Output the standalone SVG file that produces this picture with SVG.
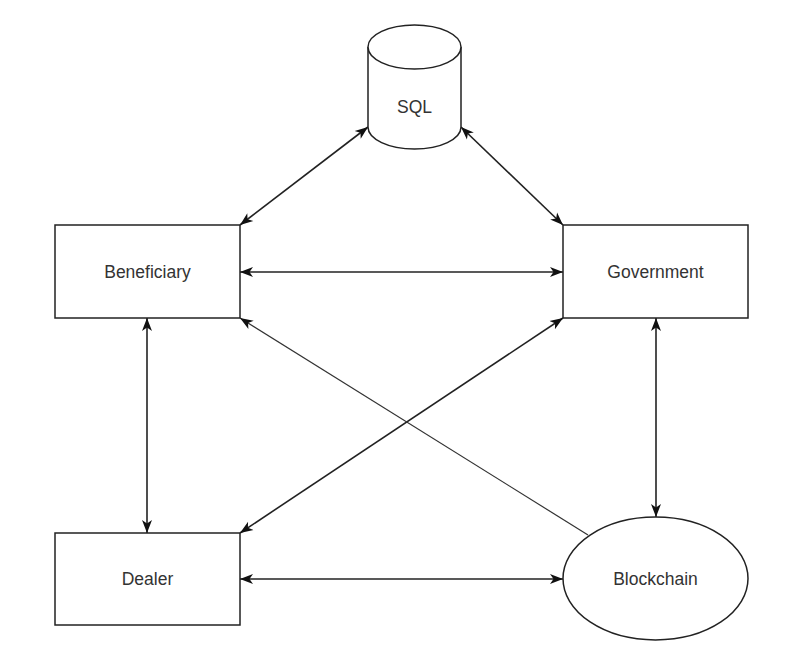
<svg xmlns="http://www.w3.org/2000/svg" width="800" height="665" viewBox="0 0 800 665">
<style>
.shape{fill:#fff;stroke:#222;stroke-width:1.5}
.lbl{font-family:"Liberation Sans",Arial,sans-serif;font-size:17.5px;fill:#333;text-anchor:middle}
.edge{fill:none;stroke:#222;stroke-width:1.6}
.thin{fill:none;stroke:#333;stroke-width:1.2}
</style>
<defs>
<marker id="arr" markerUnits="userSpaceOnUse" markerWidth="14" markerHeight="12" refX="13" refY="5" orient="auto-start-reverse" viewBox="0 0 14 10">
<path d="M0,0 L13,5 L0,10 L3.5,5 Z" fill="#111"/>
</marker>
</defs>
<rect width="800" height="665" fill="#fff"/>
<g id="connectors">
<path class="edge" d="M240,225 L368,127" marker-start="url(#arr)" marker-end="url(#arr)"/>
<path class="edge" d="M461,127 L563,225" marker-start="url(#arr)" marker-end="url(#arr)"/>
<path class="edge" d="M240,272 L563,272" marker-start="url(#arr)" marker-end="url(#arr)"/>
<path class="edge" d="M147,318 L147,533" marker-start="url(#arr)" marker-end="url(#arr)"/>
<path class="edge" d="M656,318 L656,517" marker-start="url(#arr)" marker-end="url(#arr)"/>
<path class="edge" d="M240,579 L563,579" marker-start="url(#arr)" marker-end="url(#arr)"/>
<path class="edge" d="M563,318 L240,533" marker-start="url(#arr)" marker-end="url(#arr)"/>
<path class="thin" d="M588,535 L240,318" marker-end="url(#arr)"/>
</g>
<g id="sql">
<path class="shape" d="M368,47 A46.5,22 0 0 1 461,47 L461,127 A46.5,22 0 0 1 368,127 Z"/>
<path class="shape" d="M368,47 A46.5,22 0 0 0 461,47" fill="none"/>
<text class="lbl" x="414.5" y="113">SQL</text>
</g>
<g id="beneficiary">
<rect class="shape" x="55" y="225" width="185" height="93"/>
<text class="lbl" x="147.5" y="278">Beneficiary</text>
</g>
<g id="government">
<rect class="shape" x="563" y="225" width="185" height="93"/>
<text class="lbl" x="655.5" y="278">Government</text>
</g>
<g id="dealer">
<rect class="shape" x="55" y="533" width="185" height="92"/>
<text class="lbl" x="147.5" y="585">Dealer</text>
</g>
<g id="blockchain">
<ellipse class="shape" cx="655.5" cy="578.5" rx="92.5" ry="61.5"/>
<text class="lbl" x="655.5" y="585">Blockchain</text>
</g>
</svg>
